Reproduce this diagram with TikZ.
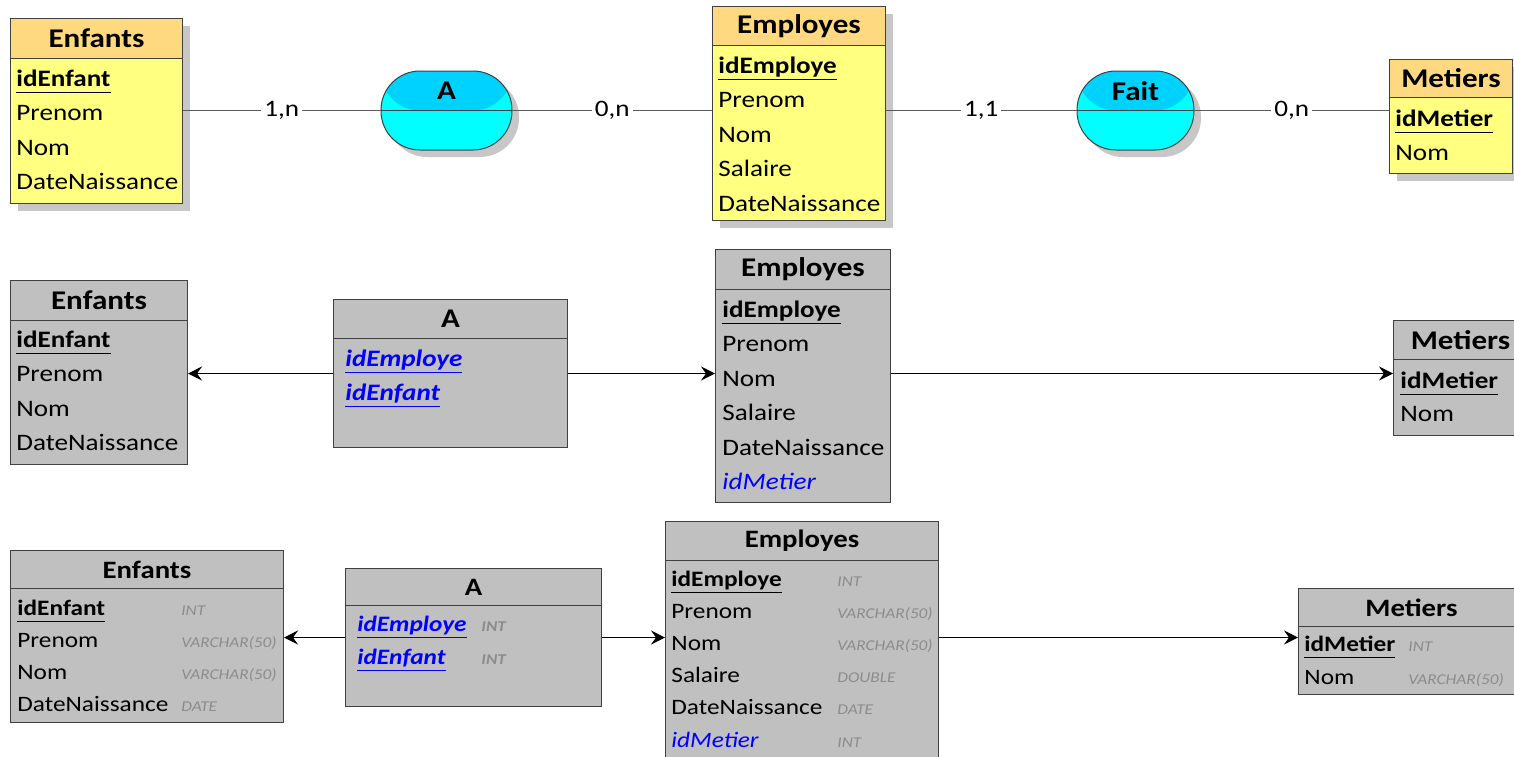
\documentclass[tikz,border=0pt]{standalone}
\usepackage{fontspec}
\setmainfont{Carlito}[FakeStretch=1.15]
\usepackage{tikz}
\usetikzlibrary{arrows.meta, positioning, shadows}
\definecolor{entbody}{HTML}{FFFF80}
\definecolor{enthead}{HTML}{FFD980}
\definecolor{reltop}{HTML}{00D2FF}
\definecolor{relbot}{HTML}{00FFFF}
\definecolor{tblgray}{HTML}{C0C0C0}
\definecolor{boxline}{HTML}{404040}
\definecolor{fkblue}{HTML}{0000FF}
\definecolor{typegray}{HTML}{8C8C8C}
\definecolor{linkgray}{HTML}{5A5A5A}
\newcommand\rowfont{\fontsize{11.8}{14}\selectfont}
\newcommand\titlefont{\fontsize{13.5}{16}\selectfont\bfseries}
\newcommand\smallrowfont{\fontsize{11}{13}\selectfont}
\newcommand\smalltitlefont{\fontsize{12.5}{15}\selectfont\bfseries}
\newcommand\sqltypefont{\fontsize{7.5}{9}\selectfont\itshape}
\newcommand\pk[1]{\underline{\textbf{#1}\vphantom{y}}}
\newcommand\fk[1]{\textcolor{fkblue}{\underline{\textbf{\textit{#1}}\vphantom{y}}}}
\newcommand\fkref[1]{\textcolor{fkblue}{\textit{#1}}}

\begin{document}
\begin{tikzpicture}[
  x=0.5pt, y=-0.5pt,
  ent/.style = {
    draw=boxline, line width=0.5pt, fill=entbody,
    anchor=north west, inner sep=0pt,
    drop shadow={shadow xshift=3.5pt, shadow yshift=-3.5pt, fill=black!22, opacity=1}
  },
  enthd/.style = {draw=boxline, line width=0.5pt, fill=enthead,
    anchor=north west, inner sep=0pt, font=\titlefont},
  tbl/.style = {draw=boxline, line width=0.5pt, fill=tblgray,
    anchor=north west, inner sep=0pt, font=\titlefont},
  rel/.style = {
    draw=boxline, line width=0.5pt, fill=relbot,
    rounded corners=19.5pt, inner sep=0pt,
    drop shadow={shadow xshift=3.5pt, shadow yshift=-3.5pt, fill=black!22, opacity=1},
    path picture={
      \fill[reltop] (path picture bounding box.west) rectangle (path picture bounding box.north east);
      \draw[boxline, line width=0.5pt] (path picture bounding box.west) -- (path picture bounding box.east);
    }
  },
  attr/.style = {anchor=west, inner sep=0pt, yshift=-1.3pt,
    text height=1.6ex, text depth=0.45ex, font=\rowfont},
  sattr/.style = {attr, font=\smallrowfont},
  sqltype/.style = {attr, font=\sqltypefont, text=typegray},
  link/.style = {draw=linkgray, line width=0.6pt},
  card/.style = {fill=white, inner sep=1.5pt, font=\rowfont},
  fkarrow/.style = {draw=black, line width=0.6pt, -{Stealth[length=7pt, width=7pt, inset=2.5pt]}}
]
  \path[use as bounding box, fill=white] (0,0) rectangle (1514,756);

  % conceptual model
  \node[ent, minimum width=86pt, minimum height=92.5pt] (enf1) at (10,18) {};
  \node[enthd, minimum width=86pt, minimum height=20pt] (enf1h) at (10,18) {Enfants};
  \node[attr] (enf1k) at (16,78) {\pk{idEnfant}};
  \foreach \t [count=\i] in {Prenom,Nom,DateNaissance}
    \node[attr] (enf1-\i) at (16,{78+34.5*\i}) {\t};

  \node[ent, minimum width=86.5pt, minimum height=107pt] (emp1) at (712,6) {};
  \node[enthd, minimum width=86.5pt, minimum height=19.5pt] (emp1h) at (712,6) {Employes};
  \node[attr] (emp1k) at (718,65) {\pk{idEmploye}};
  \foreach \t [count=\i] in {Prenom,Nom,Salaire,DateNaissance}
    \node[attr] (emp1-\i) at (718,{65+34.5*\i}) {\t};

  \node[ent, minimum width=61.5pt, minimum height=57pt] (met1) at (1389,59) {};
  \node[enthd, minimum width=61.5pt, minimum height=19pt] (met1h) at (1389,59) {Metiers};
  \node[attr] (met1k) at (1395,118) {\pk{idMetier}};
  \node[attr] (met1-1) at (1395,152) {Nom};

  \node[rel, minimum width=65.5pt, minimum height=39.5pt] (a1) at (446.5,110.5) {};
  \node[font=\titlefont, inner sep=0pt] (a1t) at (446.5,91) {A};
  \node[rel, minimum width=58.5pt, minimum height=39.5pt] (fait1) at (1135.5,110.5) {};
  \node[font=\titlefont, inner sep=0pt] (fait1t) at (1135.5,91) {Fait};

  \draw[link] (enf1.east |- a1.west) -- node[card] {1,n} (a1.west);
  \draw[link] (a1.east) -- node[card] {0,n} (emp1.west |- a1.east);
  \draw[link] (emp1.east |- fait1.west) -- node[card] {1,1} (fait1.west);
  \draw[link] (fait1.east) -- node[card] {0,n} (met1.west |- fait1.east);

  % logical model
  \node[tbl, minimum width=88.5pt, minimum height=92pt] (enf2) at (10,280) {};
  \node[tbl, minimum width=88.5pt, minimum height=20pt] (enf2h) at (10,280) {Enfants};
  \node[attr] (enf2k) at (16,339) {\pk{idEnfant}};
  \foreach \t [count=\i] in {Prenom,Nom,DateNaissance}
    \node[attr] (enf2-\i) at (16,{339+34.5*\i}) {\t};

  \node[tbl, minimum width=117pt, minimum height=74pt] (a2) at (333,299) {};
  \node[tbl, minimum width=117pt, minimum height=19.5pt] (a2h) at (333,299) {A};
  \node[attr] (a2-1) at (345,358) {\fk{idEmploye}};
  \node[attr] (a2-2) at (345,392) {\fk{idEnfant}};

  \node[tbl, minimum width=87.5pt, minimum height=126.5pt] (emp2) at (715,249) {};
  \node[tbl, minimum width=87.5pt, minimum height=20pt] (emp2h) at (715,249) {Employes};
  \node[attr] (emp2k) at (722,309) {\pk{idEmploye}};
  \foreach \t [count=\i] in {Prenom,Nom,Salaire,DateNaissance}
    \node[attr] (emp2-\i) at (722,{309+34.5*\i}) {\t};
  \node[attr] (emp2-5) at (722,481) {\fkref{idMetier}};

  \node[tbl, minimum width=67pt, minimum height=57.5pt] (met2) at (1393,320) {};
  \node[tbl, minimum width=67pt, minimum height=19.5pt] (met2h) at (1393,320) {Metiers};
  \node[attr] (met2k) at (1400,380) {\pk{idMetier}};
  \node[attr] (met2-1) at (1400,413) {Nom};

  \draw[fkarrow] (a2.west) -- (enf2.east |- a2.west);
  \draw[fkarrow] (a2.east) -- (emp2.west |- a2.east);
  \draw[fkarrow] (emp2.east |- a2.east) -- (met2.west |- a2.east);

  % physical model
  \node[tbl, minimum width=136.5pt, minimum height=86pt] (enf3) at (10,550) {};
  \node[tbl, minimum width=136.5pt, minimum height=19pt, font=\smalltitlefont] (enf3h) at (10,550) {Enfants};
  \node[sattr] (enf3k) at (17,607) {\pk{idEnfant}};
  \node[sqltype] (enf3t) at (181,607) {INT};
  \foreach \t/\s [count=\i] in {Prenom/VARCHAR(50),Nom/VARCHAR(50),DateNaissance/DATE} {
    \node[sattr] (enf3-\i) at (17,{607+32*\i}) {\t};
    \node[sqltype] (enf3t-\i) at (181,{607+32*\i}) {\s};
  }

  \node[tbl, minimum width=128pt, minimum height=69pt] (a3) at (345,568) {};
  \node[tbl, minimum width=128pt, minimum height=18.5pt, font=\smalltitlefont] (a3h) at (345,568) {A};
  \node[sattr] (a3-1) at (357,623) {\fk{idEmploye}};
  \node[sqltype] (a3t-1) at (481,623) {\textbf{INT}};
  \node[sattr] (a3-2) at (357,656) {\fk{idEnfant}};
  \node[sqltype] (a3t-2) at (481,656) {\textbf{INT}};

  \node[tbl, minimum width=136.5pt, minimum height=125pt] (emp3) at (665,521) {};
  \node[tbl, minimum width=136.5pt, minimum height=19.5pt, font=\smalltitlefont] (emp3h) at (665,521) {Employes};
  \node[sattr] (emp3k) at (671,578) {\pk{idEmploye}};
  \node[sqltype] (emp3t) at (837,578) {INT};
  \foreach \t/\s [count=\i] in {Prenom/VARCHAR(50),Nom/VARCHAR(50),Salaire/DOUBLE,DateNaissance/DATE} {
    \node[sattr] (emp3-\i) at (671,{578+32.2*\i}) {\t};
    \node[sqltype] (emp3t-\i) at (837,{578+32.2*\i}) {\s};
  }
  \node[sattr] (emp3-5) at (671,739) {\fkref{idMetier}};
  \node[sqltype] (emp3t-5) at (837,739) {INT};

  \node[tbl, minimum width=113pt, minimum height=53pt] (met3) at (1298,588) {};
  \node[tbl, minimum width=113pt, minimum height=19pt, font=\smalltitlefont] (met3h) at (1298,588) {Metiers};
  \node[sattr] (met3k) at (1304,643) {\pk{idMetier}};
  \node[sqltype] (met3t) at (1408,643) {INT};
  \node[sattr] (met3-1) at (1304,676) {Nom};
  \node[sqltype] (met3t-1) at (1408,676) {VARCHAR(50)};

  \draw[fkarrow] (a3.west) -- (enf3.east |- a3.west);
  \draw[fkarrow] (a3.east) -- (emp3.west |- a3.east);
  \draw[fkarrow] (emp3.east |- a3.east) -- (met3.west |- a3.east);
\end{tikzpicture}
\end{document}
